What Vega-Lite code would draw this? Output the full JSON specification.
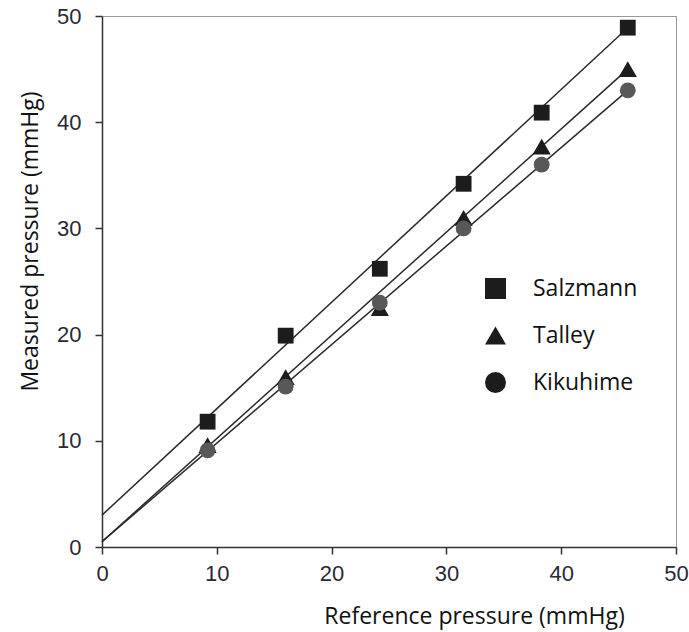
{
  "$schema": "https://vega.github.io/schema/vega-lite/v6.json",
  "width": 574,
  "height": 531,
  "autosize": {"type": "none"},
  "padding": {"left": 102, "top": 16, "right": 13, "bottom": 85},
  "background": "white",
  "config": {
    "view": {"stroke": "#999", "strokeWidth": 1},
    "axis": {
      "grid": false,
      "domainColor": "#333",
      "domainWidth": 1.5,
      "tickColor": "#333",
      "tickWidth": 1.5,
      "tickSize": 7,
      "labelFlush": false,
      "labelFont": "Liberation Sans",
      "labelFontSize": 22,
      "labelColor": "#2a2a35",
      "titleFont": "Open Sans",
      "titleFontSize": 23,
      "titleFontWeight": "normal",
      "titleColor": "#111"
    }
  },
  "datasets": {
    "points": [
      {"ref": 9.2, "measured": 11.8, "device": "Salzmann"},
      {"ref": 16.0, "measured": 19.9, "device": "Salzmann"},
      {"ref": 24.2, "measured": 26.2, "device": "Salzmann"},
      {"ref": 31.5, "measured": 34.2, "device": "Salzmann"},
      {"ref": 38.3, "measured": 40.9, "device": "Salzmann"},
      {"ref": 45.8, "measured": 48.9, "device": "Salzmann"},
      {"ref": 9.2, "measured": 9.6, "device": "Talley"},
      {"ref": 16.0, "measured": 16.0, "device": "Talley"},
      {"ref": 24.2, "measured": 22.5, "device": "Talley"},
      {"ref": 31.5, "measured": 31.0, "device": "Talley"},
      {"ref": 38.3, "measured": 37.7, "device": "Talley"},
      {"ref": 45.8, "measured": 45.0, "device": "Talley"},
      {"ref": 9.2, "measured": 9.1, "device": "Kikuhime"},
      {"ref": 16.0, "measured": 15.1, "device": "Kikuhime"},
      {"ref": 24.2, "measured": 23.0, "device": "Kikuhime"},
      {"ref": 31.5, "measured": 30.0, "device": "Kikuhime"},
      {"ref": 38.3, "measured": 36.0, "device": "Kikuhime"},
      {"ref": 45.8, "measured": 43.0, "device": "Kikuhime"}
    ],
    "fits": [
      {"ref": 0, "measured": 3.0, "device": "Salzmann"},
      {"ref": 45.8, "measured": 48.9, "device": "Salzmann"},
      {"ref": 0, "measured": 0.5, "device": "Talley"},
      {"ref": 45.8, "measured": 45.0, "device": "Talley"},
      {"ref": 0, "measured": 0.5, "device": "Kikuhime"},
      {"ref": 45.8, "measured": 43.0, "device": "Kikuhime"}
    ]
  },
  "layer": [
    {
      "data": {"name": "fits"},
      "mark": {"type": "line", "color": "#2a2a2a", "strokeWidth": 1.5},
      "encoding": {
        "x": {"field": "ref", "type": "quantitative", "scale": {"domain": [0, 50], "nice": false}, "axis": {"values": [0, 10, 20, 30, 40, 50], "title": "Reference pressure (mmHg)", "labelPadding": 9, "titleX": 372, "titleY": 76, "titleAlign": "center", "titleBaseline": "alphabetic"}},
        "y": {"field": "measured", "type": "quantitative", "scale": {"domain": [0, 50], "nice": false}, "axis": {"values": [0, 10, 20, 30, 40, 50], "title": "Measured pressure (mmHg)", "labelPadding": 14, "titleX": -65, "titleY": 225, "titleAngle": -90, "titleAlign": "center", "titleBaseline": "alphabetic"}},
        "detail": {"field": "device"}
      }
    },
    {
      "data": {"name": "points"},
      "mark": {"type": "point", "filled": true, "opacity": 1},
      "encoding": {
        "x": {"field": "ref", "type": "quantitative"},
        "y": {"field": "measured", "type": "quantitative"},
        "shape": {
          "field": "device", "type": "nominal",
          "scale": {"domain": ["Salzmann", "Talley", "Kikuhime"], "range": ["square", "triangle-up", "circle"]},
          "legend": {
            "title": null, "orient": "none", "legendX": 382, "legendY": 261,
            "symbolSize": 440, "symbolType": "square", "symbolFillColor": "#000", "symbolStrokeColor": "#000", "symbolStrokeWidth": 0,
            "labelFont": "Open Sans", "labelFontSize": 23, "labelColor": "#111", "labelOffset": 26,
            "rowPadding": 23, "padding": 0
          }
        },
        "color": {
          "condition": {"test": "datum.device === 'Kikuhime'", "value": "#585858"},
          "value": "#1c1c1c"
        },
        "size": {
          "condition": {"test": "datum.device === 'Talley'", "value": 330},
          "value": 250
        },
        "order": {"field": "device", "sort": "descending"}
      }
    }
  ]
}
